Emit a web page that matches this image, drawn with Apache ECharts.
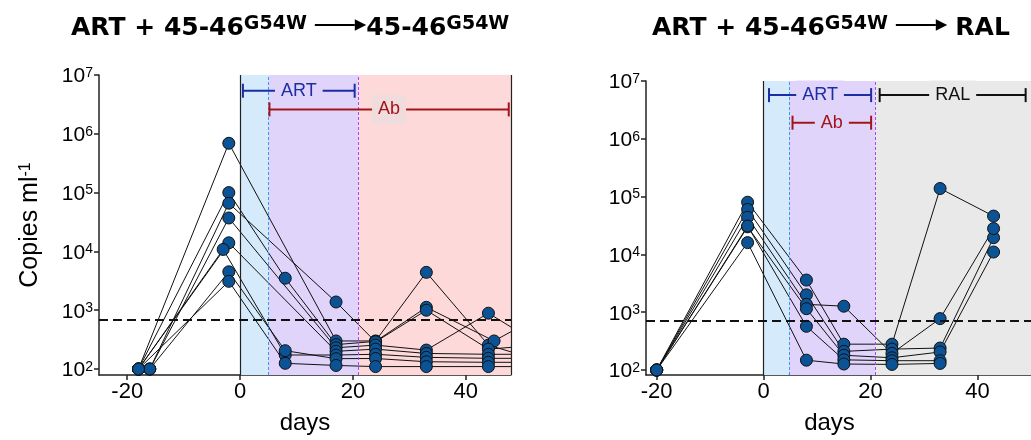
<!DOCTYPE html>
<html>
<head>
<meta charset="utf-8">
<script src="https://cdn.jsdelivr.net/npm/echarts@6/dist/echarts.min.js"></script>
<style>
  html, body { margin: 0; padding: 0; background: #ffffff; }
  #chart { width: 1031px; height: 440px; }
</style>
</head>
<body>
<div id="chart"></div>
<script>
// Viral load (copies/ml) per animal, as [day, copies] pairs.
// ART + 45-46 G54W, followed by 45-46 G54W alone
const leftSubjects = [
  [[-18, 100], [-2, 690000], [17, 300], [24, 300], [33, 4400], [44, 255], [52, 150]],
  [[-18, 100], [-2, 100000], [8, 3500], [17, 260], [24, 295], [33, 1120], [45, 300], [52, 700]],
  [[-16, 100], [-2, 66000], [17, 1380], [24, 290], [33, 1000], [44, 218], [52, 250]],
  [[-16, 100], [-2, 37000], [17, 230], [24, 255], [33, 210], [44, 890], [52, 300]],
  [[-18, 100], [-2, 14000], [17, 200], [24, 218], [33, 184], [44, 178], [52, 178]],
  [[-18, 100], [-3, 10800], [8, 173], [17, 173], [24, 178], [33, 158], [44, 152], [52, 152]],
  [[-16, 100], [-2, 4500], [8, 205], [17, 150], [24, 151], [33, 133], [44, 130], [52, 130]],
  [[-18, 100], [-2, 3100], [8, 125], [17, 115], [24, 110], [33, 110], [44, 110], [52, 110]]
];

// ART + 45-46 G54W, followed by RAL
const rightSubjects = [
  [[-20, 100], [-3, 80000], [8, 3600], [15, 280], [24, 280], [33, 138000], [43, 46000]],
  [[-20, 100], [-3, 60000], [8, 2000], [15, 210], [24, 230], [33, 240], [43, 19500]],
  [[-20, 100], [-3, 44000], [8, 1370], [15, 1270], [24, 194], [33, 775], [43, 28000]],
  [[-20, 100], [-3, 30000], [8, 1150], [15, 180], [24, 163], [33, 205], [43, 11000]],
  [[-20, 100], [-3, 31000], [8, 570], [15, 150], [24, 145], [33, 145]],
  [[-20, 100], [-3, 16000], [8, 148], [15, 127], [24, 125], [33, 130]]
];

// Limit of detection (copies/ml)
const detectionLimit = 700;

// Treatment phase boundaries in days: [ART start, antibody start, ART stop, end]
const leftPhaseDays = [0, 5, 21, 48];
const rightPhaseDays = [0, 4.7, 20.9, 50];

// Treatment brackets: [label, first day, last day, row]
const leftBrackets = [['ART', 0.5, 20.3, 0], ['Ab', 5.2, 47.6, 1]];
const rightBrackets = [['ART', 1, 20.1, 0], ['Ab', 5.4, 20.1, 1], ['RAL', 21.7, 49, 0]];

// Axis ticks
const xTicks = [-20, 0, 20, 40];
const yTicks = [1e2, 1e3, 1e4, 1e5, 1e6, 1e7];

const AXIS_FONT = "'Liberation Sans', Arial, sans-serif";
const TITLE_FONT = "'DejaVu Sans', sans-serif";

const COLORS = {
  artFill: '#d5ebfc',
  abFill: '#e1d4fb',
  offFill: '#fddad9',
  ralFill: '#e9e9e9',
  artEdge: '#2e9cf2',
  abEdge: '#a349f3',
  marker: '#0b5394',
  line: '#111111',
  ART: '#1b2ea3',
  Ab: '#a3141a',
  RAL: '#111111'
};

const chart = echarts.init(document.getElementById('chart'));

function yLabel(v) {
  const e = Math.log10(v);
  const r = Math.round(e);
  if (Math.abs(e - r) > 1e-3) return '';
  return '{b|10}{s|' + r + '}';
}

const yRich = {
  b: { fontSize: 21, fontFamily: AXIS_FONT, color: '#000', lineHeight: 24, verticalAlign: 'bottom' },
  s: { fontSize: 14, fontFamily: AXIS_FONT, color: '#000', lineHeight: 14, verticalAlign: 'top', padding: [3, 0, 0, 0] }
};

const axisLine = { show: true, onZero: false, lineStyle: { color: '#222', width: 1.5 } };

function xAxisFor(gi, min, max, namePad) {
  return {
    gridIndex: gi, type: 'value', min: min, max: max, splitNumber: 3,
    name: 'days', nameLocation: 'middle', nameGap: 36,
    nameTextStyle: { fontSize: 24, fontFamily: AXIS_FONT, color: '#000', padding: namePad },
    axisLine: axisLine,
    axisTick: { show: true, length: 5, inside: false, customValues: xTicks, lineStyle: { color: '#222', width: 1.5 } },
    axisLabel: { customValues: xTicks, fontSize: 22, fontFamily: AXIS_FONT, color: '#000', margin: 6 },
    splitLine: { show: false }
  };
}

function yAxisFor(gi, min, withName) {
  const ax = {
    gridIndex: gi, type: 'log', logBase: 10, min: min, max: 1e7,
    axisLine: axisLine,
    axisTick: { show: true, length: 5, customValues: yTicks, lineStyle: { color: '#222', width: 1.5 } },
    axisLabel: { customValues: yTicks, formatter: yLabel, rich: yRich, margin: 6 },
    splitLine: { show: false },
    minorTick: { show: false }
  };
  if (withName) {
    ax.name = '{a|Copies ml}{s|-1}';
    ax.nameLocation = 'middle';
    ax.nameGap = 56;
    ax.nameTextStyle = {
      rich: {
        a: { fontSize: 25, fontFamily: AXIS_FONT, color: '#000', lineHeight: 28, verticalAlign: 'bottom' },
        s: { fontSize: 16, fontFamily: AXIS_FONT, color: '#000', lineHeight: 16, verticalAlign: 'top', padding: [3, 0, 0, 0] }
      }
    };
  }
  return ax;
}

function panelSeries(gi, subjects, phases, brackets, lastFill, rowLevels, labelBgs, rightEdge) {
  const out = [];
  const edgeLines = [
    { xAxis: phases[0], lineStyle: { color: '#222', type: 'solid', width: 1.2 } },
    { xAxis: phases[1], lineStyle: { color: COLORS.artEdge, type: [3, 2], width: 1 } },
    { xAxis: phases[2], lineStyle: { color: COLORS.abEdge, type: [3, 2], width: 1 } }
  ];
  if (rightEdge) edgeLines.push({ xAxis: phases[3], lineStyle: { color: '#222', type: 'solid', width: 1.2 } });

  // treatment phase shading
  out.push({
    type: 'line', xAxisIndex: gi, yAxisIndex: gi, data: [], z: 1, silent: true,
    markArea: {
      silent: true,
      data: [
        [{ xAxis: phases[0], itemStyle: { color: COLORS.artFill } }, { xAxis: phases[1] }],
        [{ xAxis: phases[1], itemStyle: { color: COLORS.abFill } }, { xAxis: phases[2] }],
        [{ xAxis: phases[2], itemStyle: { color: lastFill } }, { xAxis: phases[3] }]
      ]
    },
    markLine: { silent: true, symbol: 'none', label: { show: false }, data: edgeLines }
  });

  // one polyline per animal
  subjects.forEach(function (s) {
    out.push({
      type: 'line', xAxisIndex: gi, yAxisIndex: gi, data: s, z: 2,
      showSymbol: false, clip: true, silent: true,
      lineStyle: { color: COLORS.line, width: 1 }
    });
  });

  // detection limit
  out.push({
    type: 'line', xAxisIndex: gi, yAxisIndex: gi, data: [], z: 3, silent: true,
    markLine: {
      silent: true, symbol: 'none', label: { show: false },
      data: [{ yAxis: detectionLimit }],
      lineStyle: { color: '#111', type: [9, 5], width: 2 }
    }
  });

  // measurement markers
  out.push({
    type: 'scatter', xAxisIndex: gi, yAxisIndex: gi, z: 4, clip: true, silent: true,
    data: [].concat.apply([], subjects),
    symbol: 'circle', symbolSize: 12,
    itemStyle: { color: COLORS.marker, borderColor: '#111', borderWidth: 1, opacity: 1 }
  });

  // treatment brackets
  out.push({
    type: 'custom', xAxisIndex: gi, yAxisIndex: gi, z: 5, silent: true,
    encode: { x: [0, 1], y: 2 },
    data: brackets.map(function (b) { return [b[1], b[2], rowLevels[b[3]]]; }),
    renderItem: function (params, api) {
      const b = brackets[params.dataIndex];
      const c = COLORS[b[0]];
      const p0 = api.coord([api.value(0), api.value(2)]);
      const p1 = api.coord([api.value(1), api.value(2)]);
      const cap = 7;
      const st = { stroke: c, lineWidth: 2 };
      return {
        type: 'group',
        children: [
          { type: 'line', shape: { x1: p0[0], y1: p0[1], x2: p1[0], y2: p1[1] }, style: st },
          { type: 'line', shape: { x1: p0[0], y1: p0[1] - cap, x2: p0[0], y2: p0[1] + cap }, style: st },
          { type: 'line', shape: { x1: p1[0], y1: p1[1] - cap, x2: p1[0], y2: p1[1] + cap }, style: st },
          {
            type: 'text', x: (p0[0] + p1[0]) / 2, y: p0[1],
            style: {
              text: b[0], fill: c, fontSize: 18, fontFamily: AXIS_FONT,
              align: 'center', verticalAlign: 'middle',
              backgroundColor: labelBgs[params.dataIndex], padding: [6, 6, 5, 6]
            }
          }
        ]
      };
    }
  });
  return out;
}

// Title pieces: main text, superscript, arrow shaft and arrow head
const titleRich = {
  m: { fontSize: 25, fontWeight: 'bold', fontFamily: TITLE_FONT, color: '#000', lineHeight: 32, verticalAlign: 'bottom' },
  s: { fontSize: 19, fontWeight: 'bold', fontFamily: TITLE_FONT, color: '#000', lineHeight: 26, verticalAlign: 'top', padding: [6, 0, 0, 0] },
  l: { width: 40, height: 2, lineHeight: 2, backgroundColor: '#000', verticalAlign: 'middle', fontSize: 2 },
  h: { fontSize: 15, fontFamily: TITLE_FONT, color: '#000', lineHeight: 32, verticalAlign: 'middle' },
  g: { width: 8, fontSize: 2, lineHeight: 2, verticalAlign: 'middle' }
};

const option = {
  animation: false,
  backgroundColor: '#ffffff',
  title: [
    { left: 66, top: 4, text: '{m|ART + 45-46}{s|G54W}{g| }{l| }{h|▶}{m|45-46}{s|G54W}', textStyle: { rich: titleRich } },
    { left: 647, top: 4, text: '{m|ART + 45-46}{s|G54W}{g| }{l| }{h|▶}{g| }{m|RAL}', textStyle: { rich: titleRich } }
  ],
  grid: [
    { left: 99, top: 75, width: 412, height: 301 },
    { left: 646, top: 81, width: 388, height: 295 }
  ],
  xAxis: [xAxisFor(0, -25, 48, [0, 0, 0, 0]), xAxisFor(1, -22, 50, [0, 18, 0, 0])],
  yAxis: [yAxisFor(0, 79.1, true), yAxisFor(1, 82, false)],
  series: [].concat(
    panelSeries(0, leftSubjects, leftPhaseDays, leftBrackets, COLORS.offFill, [5.4e6, 2.6e6], [COLORS.abFill, '#f0dcdc'], true),
    panelSeries(1, rightSubjects, rightPhaseDays, rightBrackets, COLORS.ralFill, [5.7e6, 1.9e6], [COLORS.abFill, COLORS.abFill, COLORS.ralFill], false)
  )
};

chart.setOption(option);
</script>
</body>
</html>
